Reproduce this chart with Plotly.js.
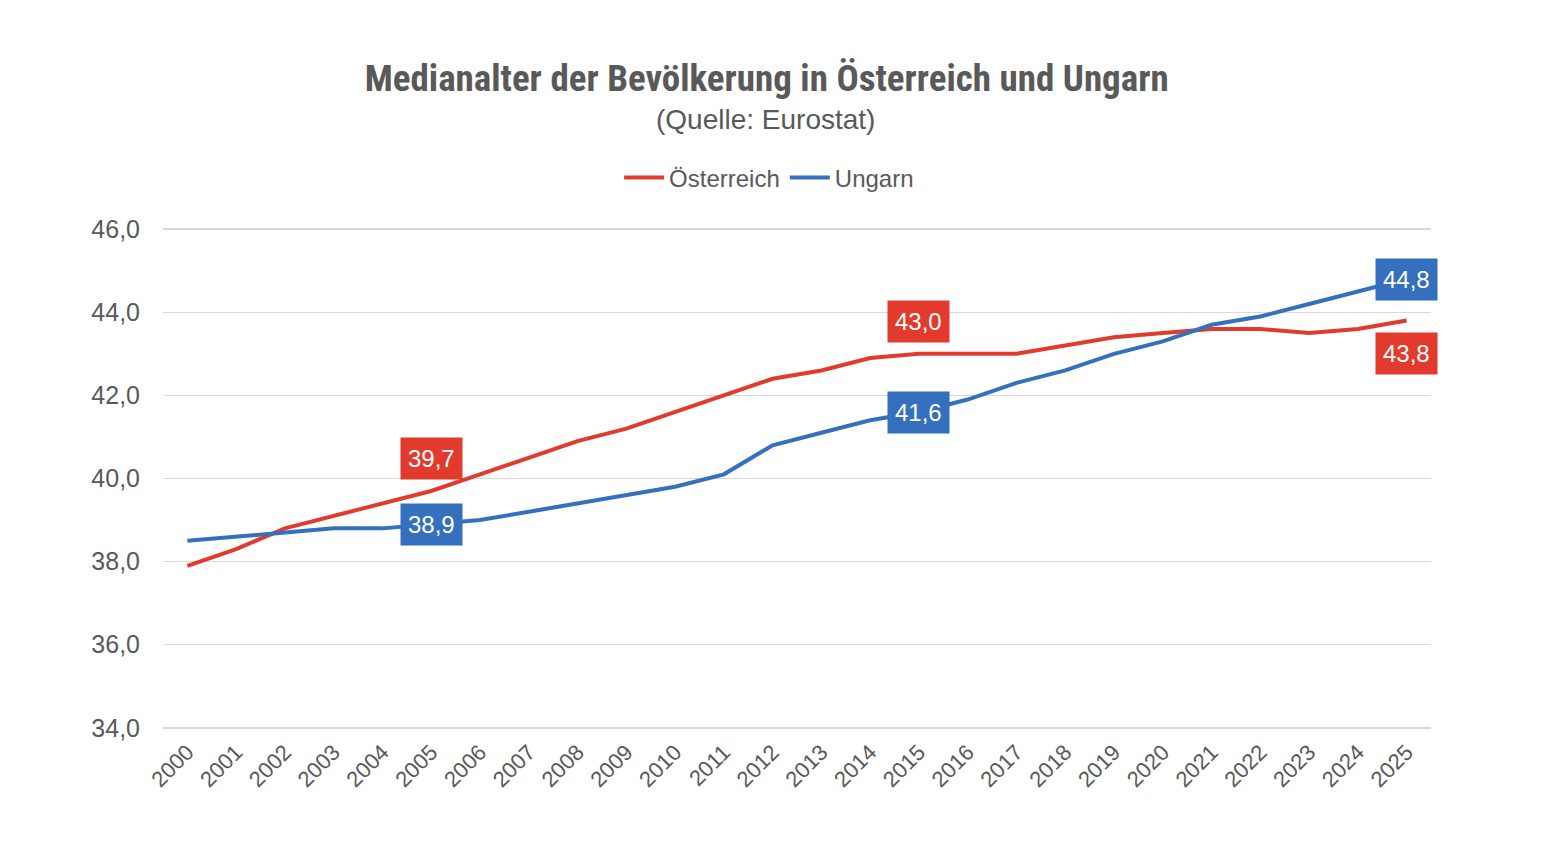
<!DOCTYPE html>
<html>
<head>
<meta charset="utf-8">
<script src="https://cdn.plot.ly/plotly-3.0.1.min.js"></script>
<style>html,body{margin:0;padding:0;background:#fff;}#chart{width:1552px;height:864px;}</style>
</head>
<body>
<div id="chart"></div>
<script>
const years = ["2000","2001","2002","2003","2004","2005","2006","2007","2008","2009","2010","2011","2012","2013","2014","2015","2016","2017","2018","2019","2020","2021","2022","2023","2024","2025"];
const oesterreich = [37.9,38.3,38.8,39.1,39.4,39.7,40.1,40.5,40.9,41.2,41.6,42.0,42.4,42.6,42.9,43.0,43.0,43.0,43.2,43.4,43.5,43.6,43.6,43.5,43.6,43.8];
const ungarn = [38.5,38.6,38.7,38.8,38.8,38.9,39.0,39.2,39.4,39.6,39.8,40.1,40.8,41.1,41.4,41.6,41.9,42.3,42.6,43.0,43.3,43.7,43.9,44.2,44.5,44.8];
const labelYears = ["2005","2015","2025"];
const yTicks = [34,36,38,40,42,44,46];

const RED = "#E23B2E";
const BLUE = "#3470BD";
const GRAY = "#595959";
const NARROW = "'Roboto Condensed', 'Liberation Sans Narrow', Roboto, sans-serif";
const SANS = "'Liberation Sans', Arial, sans-serif";

const fmt = v => v.toFixed(1).replace(".", ",");

const annotations = [];
labelYears.forEach((yr, k) => {
  const i = years.indexOf(yr);
  annotations.push({
    x: i, y: oesterreich[i], xref: "x", yref: "y",
    text: fmt(oesterreich[i]), showarrow: false,
    yshift: k < 2 ? 32 : -33,
    bgcolor: RED, borderpad: 7,
    font: {family: SANS, size: 24, color: "#fff"}
  });
  annotations.push({
    x: i, y: ungarn[i], xref: "x", yref: "y",
    text: fmt(ungarn[i]), showarrow: false,
    bgcolor: BLUE, borderpad: 7,
    font: {family: SANS, size: 24, color: "#fff"}
  });
});
annotations.push({
  xref: "paper", yref: "paper", x: 0.4755, y: 1.209, xanchor: "center", yanchor: "middle",
  text: "(Quelle: Eurostat)", showarrow: false,
  font: {family: SANS, size: 28, color: GRAY}
});

const traces = [
  {x: years, y: oesterreich, name: "Österreich", type: "scatter", mode: "lines",
   line: {color: RED, width: 4}, hoverinfo: "skip"},
  {x: years, y: ungarn, name: "Ungarn", type: "scatter", mode: "lines",
   line: {color: BLUE, width: 4}, hoverinfo: "skip"}
];

const layout = {
  width: 1552, height: 864,
  paper_bgcolor: "#fff", plot_bgcolor: "#fff",
  margin: {l: 163, r: 121, t: 225, b: 132},
  separators: ",.",
  title: {
    text: "<b>Medianalter der Bevölkerung in Österreich und Ungarn</b>",
    x: 0.494, xanchor: "center", y: 0.91, yanchor: "middle", yref: "container",
    font: {family: NARROW, size: 37, color: GRAY}
  },
  showlegend: true,
  legend: {
    orientation: "h", x: 0.478, xanchor: "center", y: 1.093, yanchor: "middle",
    font: {family: SANS, size: 24, color: GRAY},
    itemwidth: 40, tracegroupgap: 0
  },
  xaxis: {
    type: "category", range: [-0.5, 25.5],
    tickangle: -45, showgrid: false, zeroline: false, showline: false,
    ticks: "", ticklabelstandoff: 2,
    tickfont: {family: SANS, size: 22, color: GRAY}
  },
  yaxis: {
    range: [33.9, 46.1], tickvals: yTicks, tickformat: ".1f",
    showgrid: true, gridcolor: "#D9D9D9", gridwidth: 1.5, zeroline: false, showline: false,
    ticks: "", ticklabelstandoff: 22,
    tickfont: {family: SANS, size: 25, color: GRAY}
  },
  annotations: annotations
};

Plotly.newPlot("chart", traces, layout, {displayModeBar: false, staticPlot: true});
</script>
</body>
</html>
